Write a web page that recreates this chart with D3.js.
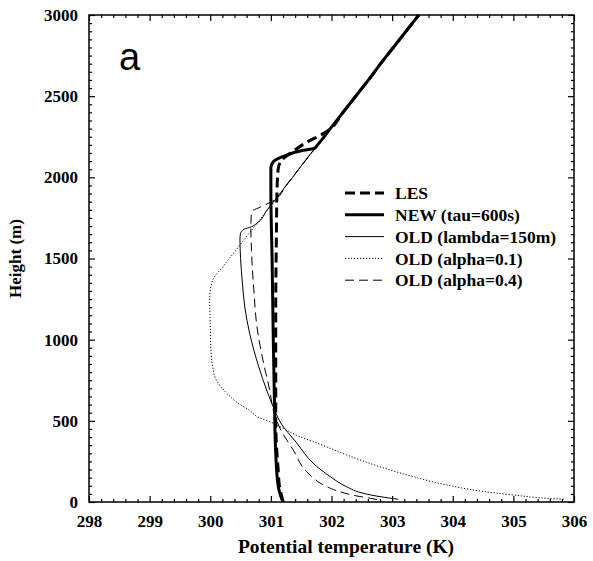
<!DOCTYPE html>
<html>
<head>
<meta charset="utf-8">
<script src="https://cdn.jsdelivr.net/npm/d3@7"></script>
<style>
  html, body { margin: 0; padding: 0; background: #fff; }
  svg { display: block; }
  text { font-family: "Liberation Serif", "Times New Roman", serif; font-weight: bold; fill: #000; }
</style>
</head>
<body>
<svg id="chart" width="593" height="561"></svg>
<script>
// Potential temperature profiles (K) against height (m)
const lesHeight = [0, 50, 100, 200, 300, 500, 800, 1200, 1600, 1900, 2050, 2107, 2150, 2200, 2292, 2400, 2500, 2600, 2700, 2800, 2900, 3000];
const lesTheta  = [301.2, 301.17, 301.14, 301.12, 301.1, 301.08, 301.08, 301.08, 301.09, 301.1, 301.12, 301.18, 301.33, 301.52, 301.96, 302.19, 302.4, 302.61, 302.81, 303.02, 303.23, 303.44];

const newHeight = [0, 50, 100, 300, 600, 1000, 1500, 1900, 2060, 2096, 2137, 2164, 2179, 2200, 2300, 2400, 2500, 2600, 2700, 2800, 2900, 3000];
const newTheta  = [301.2, 301.15, 301.12, 301.08, 301.06, 301.04, 301.02, 301.0, 301.0, 301.04, 301.26, 301.5, 301.72, 301.77, 301.98, 302.19, 302.4, 302.61, 302.81, 303.02, 303.23, 303.44];

const lambdaHeight = [17, 33, 54, 94, 156, 238, 362, 495, 567, 690, 833, 1039, 1200, 1350, 1500, 1620, 1655, 1680, 1696, 1717, 1800, 1900, 2000, 2100, 2200, 2300, 2400, 2500, 2600, 2700, 2800, 2900, 3000];
const lambdaTheta  = [303.1, 302.8, 302.52, 302.25, 301.98, 301.7, 301.43, 301.15, 301.06, 300.93, 300.8, 300.65, 300.57, 300.53, 300.5, 300.49, 300.5, 300.56, 300.68, 300.77, 300.94, 301.15, 301.36, 301.56, 301.77, 301.98, 302.19, 302.4, 302.61, 302.81, 303.02, 303.23, 303.44];

const alpha01Height = [17, 23, 43, 68, 105, 156, 217, 290, 365, 402, 460, 485, 525, 567, 608, 649, 690, 751, 833, 950, 1100, 1250, 1367, 1450, 1550, 1650, 1750, 1850, 1950, 2050, 2150, 2250, 2350, 2450, 2550, 2650, 2750, 2850, 3000];
const alpha01Theta  = [305.83, 305.55, 305.0, 304.45, 303.9, 303.35, 302.8, 302.25, 301.75, 301.48, 301.17, 301.04, 300.78, 300.64, 300.46, 300.33, 300.22, 300.1, 300.04, 300.01, 300.0, 299.99, 300.04, 300.21, 300.42, 300.63, 300.84, 301.05, 301.25, 301.46, 301.67, 301.88, 302.09, 302.29, 302.5, 302.71, 302.92, 303.13, 303.44];

const alpha04Height = [15, 23, 37, 63, 105, 187, 320, 454, 567, 690, 854, 1080, 1300, 1550, 1700, 1788, 1816, 1860, 1950, 2050, 2150, 2250, 2350, 2450, 2550, 2650, 2750, 2850, 3000];
const alpha04Theta  = [302.75, 302.64, 302.42, 302.14, 301.87, 301.59, 301.37, 301.15, 301.04, 300.98, 300.88, 300.77, 300.72, 300.68, 300.67, 300.68, 300.82, 301.06, 301.25, 301.46, 301.67, 301.88, 302.09, 302.29, 302.5, 302.71, 302.92, 303.13, 303.44];

const seriesNames = ["LES", "NEW (tau=600s)", "OLD (lambda=150m)", "OLD (alpha=0.1)", "OLD (alpha=0.4)"];
const xTicks = [298, 299, 300, 301, 302, 303, 304, 305, 306];
const yTicks = [0, 500, 1000, 1500, 2000, 2500, 3000];

const series = [
  { name: seriesNames[0], h: lesHeight,     t: lesTheta,     width: 3,   dash: "10,5" },
  { name: seriesNames[1], h: newHeight,     t: newTheta,     width: 3,   dash: null },
  { name: seriesNames[2], h: lambdaHeight,  t: lambdaTheta,  width: 1,   dash: null },
  { name: seriesNames[3], h: alpha01Height, t: alpha01Theta, width: 1,   dash: "1.2,1.8" },
  { name: seriesNames[4], h: alpha04Height, t: alpha04Theta, width: 1,   dash: "9,5" }
];

const svg = d3.select("#chart");
const plotLeft = 89, plotRight = 574, plotTop = 15, plotBottom = 502;

const x = d3.scaleLinear().domain([298, 306]).range([plotLeft, plotRight]);
const y = d3.scaleLinear().domain([0, 3000]).range([plotBottom, plotTop]);

const xMinor = d3.range(298, 306.001, 0.2).map(v => +v.toFixed(1)).filter(v => !xTicks.includes(v));
const yMinor = d3.range(0, 3001, 50).filter(v => !yTicks.includes(v));

const fontSize = 17;

function styleAxis(g) {
  g.select(".domain").remove();
  g.selectAll("line").attr("stroke", "#000").attr("stroke-width", 1.2);
  g.selectAll("text").style("font-size", fontSize + "px");
}

// bottom
svg.append("g").attr("transform", `translate(0,${plotBottom})`)
  .call(d3.axisBottom(x).tickValues(xTicks).tickSize(-6).tickPadding(13).tickFormat(d3.format("d")))
  .call(styleAxis);
svg.append("g").attr("transform", `translate(0,${plotBottom})`)
  .call(d3.axisBottom(x).tickValues(xMinor).tickSize(-3).tickFormat(""))
  .call(styleAxis);
// top
svg.append("g").attr("transform", `translate(0,${plotTop})`)
  .call(d3.axisTop(x).tickValues(xTicks).tickSize(-6).tickFormat(""))
  .call(styleAxis);
svg.append("g").attr("transform", `translate(0,${plotTop})`)
  .call(d3.axisTop(x).tickValues(xMinor).tickSize(-3).tickFormat(""))
  .call(styleAxis);
// left
svg.append("g").attr("transform", `translate(${plotLeft},0)`)
  .call(d3.axisLeft(y).tickValues(yTicks).tickSize(-6).tickPadding(11).tickFormat(d3.format("d")))
  .call(styleAxis);
svg.append("g").attr("transform", `translate(${plotLeft},0)`)
  .call(d3.axisLeft(y).tickValues(yMinor).tickSize(-3).tickFormat(""))
  .call(styleAxis);
// right
svg.append("g").attr("transform", `translate(${plotRight},0)`)
  .call(d3.axisRight(y).tickValues(yTicks).tickSize(-6).tickFormat(""))
  .call(styleAxis);
svg.append("g").attr("transform", `translate(${plotRight},0)`)
  .call(d3.axisRight(y).tickValues(yMinor).tickSize(-3).tickFormat(""))
  .call(styleAxis);

// frame
svg.append("rect")
  .attr("x", plotLeft).attr("y", plotTop)
  .attr("width", plotRight - plotLeft).attr("height", plotBottom - plotTop)
  .attr("fill", "none").attr("stroke", "#000").attr("stroke-width", 1.5);

// profiles
const line = d3.line()
  .x(d => x(d[1]))
  .y(d => y(d[0]))
  .curve(d3.curveMonotoneY);

const plot = svg.append("g");
series.forEach(s => {
  const pts = s.h.map((h, i) => [h, s.t[i]]);
  plot.append("path")
    .datum(pts)
    .attr("d", line)
    .attr("fill", "none")
    .attr("stroke", "#000")
    .attr("stroke-width", s.width)
    .attr("stroke-dasharray", s.dash)
    .attr("stroke-linejoin", "round");
});

// legend
const legend = svg.append("g");
series.forEach((s, i) => {
  const ly = 193 + i * 21.8;
  legend.append("line")
    .attr("x1", 345).attr("x2", 384)
    .attr("y1", ly).attr("y2", ly)
    .attr("stroke", "#000")
    .attr("stroke-width", s.width)
    .attr("stroke-dasharray", s.dash);
  legend.append("text")
    .attr("x", 395).attr("y", ly)
    .attr("dy", "0.35em")
    .style("font-size", "17.5px")
    .text(s.name);
});

// panel letter
svg.append("text")
  .attr("x", 119).attr("y", 70)
  .style("font-family", "'Liberation Sans', Arial, sans-serif")
  .style("font-weight", "normal")
  .style("font-size", "38px")
  .text("a");

// axis titles
svg.append("text")
  .attr("x", 346).attr("y", 553)
  .attr("text-anchor", "middle")
  .style("font-size", "19.5px")
  .text("Potential temperature (K)");

svg.append("text")
  .attr("transform", `translate(21,${(plotTop + plotBottom) / 2}) rotate(-90)`)
  .attr("text-anchor", "middle")
  .style("font-size", "17px")
  .text("Height (m)");
</script>
</body>
</html>
